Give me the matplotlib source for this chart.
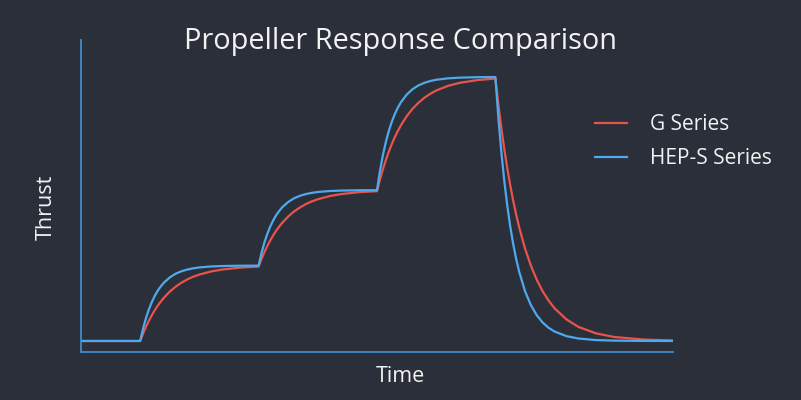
import matplotlib
matplotlib.use("Agg")
import matplotlib.pyplot as plt

# values (time in arbitrary units, thrust normalised)
time = [0, 1,
        1.05, 1.1, 1.15, 1.2, 1.25, 1.3, 1.35, 1.4, 1.5, 1.6, 1.7, 1.8, 1.9, 2.0, 2.2, 2.4, 2.7, 3.0,
        3.05, 3.1, 3.15, 3.2, 3.25, 3.3, 3.35, 3.4, 3.5, 3.6, 3.7, 3.8, 3.9, 4.0, 4.2, 4.4, 4.7, 5.0,
        5.05, 5.1, 5.15, 5.2, 5.25, 5.3, 5.35, 5.4, 5.5, 5.6, 5.7, 5.8, 5.9, 6.0, 6.2, 6.4, 6.7, 7.0,
        7.05, 7.1, 7.15, 7.2, 7.25, 7.3, 7.35, 7.4, 7.5, 7.6, 7.7, 7.8, 7.9, 8.0, 8.2, 8.4, 8.7,
        9.0, 9.5, 10.0]

g_series = [0, 0,
            0.101, 0.192, 0.273, 0.347, 0.413, 0.472, 0.525, 0.573, 0.655, 0.721, 0.774, 0.818,
            0.853, 0.881, 0.922, 0.949, 0.973, 0.986,
            1.088, 1.181, 1.263, 1.338, 1.405, 1.465, 1.518, 1.567, 1.650, 1.717, 1.771, 1.815,
            1.851, 1.879, 1.921, 1.948, 1.973, 1.986,
            2.139, 2.277, 2.399, 2.511, 2.611, 2.701, 2.781, 2.854, 2.978, 3.078, 3.158, 3.224,
            3.277, 3.320, 3.382, 3.423, 3.459, 3.479,
            3.135, 2.825, 2.545, 2.293, 2.067, 1.862, 1.678, 1.512, 1.227, 0.997, 0.809, 0.657,
            0.534, 0.433, 0.286, 0.188, 0.101, 0.054, 0.019, 0.007]

heps_series = [0, 0,
               0.169, 0.310, 0.426, 0.523, 0.604, 0.671, 0.726, 0.773, 0.843, 0.892, 0.925, 0.948,
               0.964, 0.975, 0.988, 0.994, 0.998, 0.999,
               1.169, 1.310, 1.426, 1.523, 1.604, 1.671, 1.726, 1.773, 1.843, 1.892, 1.925, 1.948,
               1.964, 1.975, 1.988, 1.994, 1.998, 1.999,
               2.254, 2.465, 2.639, 2.785, 2.906, 3.007, 3.089, 3.160, 3.265, 3.338, 3.388, 3.422,
               3.446, 3.463, 3.482, 3.491, 3.497, 3.499,
               2.963, 2.508, 2.123, 1.797, 1.521, 1.288, 1.090, 0.923, 0.661, 0.474, 0.340, 0.243,
               0.174, 0.125, 0.064, 0.033, 0.012, 0.005, 0.001, 0.0]

BG = "#2b2f3a"
RED = "#e8544c"
BLUE = "#4eaaec"
AXIS = "#3f8ccc"
TEXT = "#f2f2f2"

plt.rcParams["font.family"] = ["Open Sans", "DejaVu Sans"]

fig = plt.figure(figsize=(8.01, 4.0), dpi=100, facecolor=BG)
ax = fig.add_axes([81 / 801, 1 - 352 / 400, (673 - 81) / 801, (352 - 40) / 400])
ax.set_facecolor(BG)

ax.plot(time, g_series, color=RED, lw=1.6, label="G Series")
ax.plot(time, heps_series, color=BLUE, lw=1.6, label="HEP-S Series")

ax.set_xlim(0, 10)
ax.set_ylim(-0.146, 3.99)
ax.set_xticks([])
ax.set_yticks([])
for side in ["top", "right"]:
    ax.spines[side].set_visible(False)
for side in ["left", "bottom"]:
    ax.spines[side].set_color(AXIS)
    ax.spines[side].set_linewidth(1.3)

fig.text(400 / 801, 1 - 41 / 400, "Propeller Response Comparison", color=TEXT,
         fontsize=20.8, ha="center", va="center")
fig.text(400 / 801, 1 - 376 / 400, "Time", color=TEXT, fontsize=15.5,
         ha="center", va="center")
fig.text(46 / 801, 1 - 207 / 400, "Thrust", color=TEXT, fontsize=15.5,
         ha="center", va="center", rotation=90)

leg = ax.legend(loc="upper left", bbox_to_anchor=(595 / 801, 1 - 114 / 400),
                bbox_transform=fig.transFigure, frameon=False, fontsize=15,
                handlelength=1.55, handletextpad=1.1, labelspacing=0.62,
                borderpad=0, borderaxespad=0)
for t in leg.get_texts():
    t.set_color(TEXT)

fig.savefig("out.png", dpi=100, facecolor=BG)
